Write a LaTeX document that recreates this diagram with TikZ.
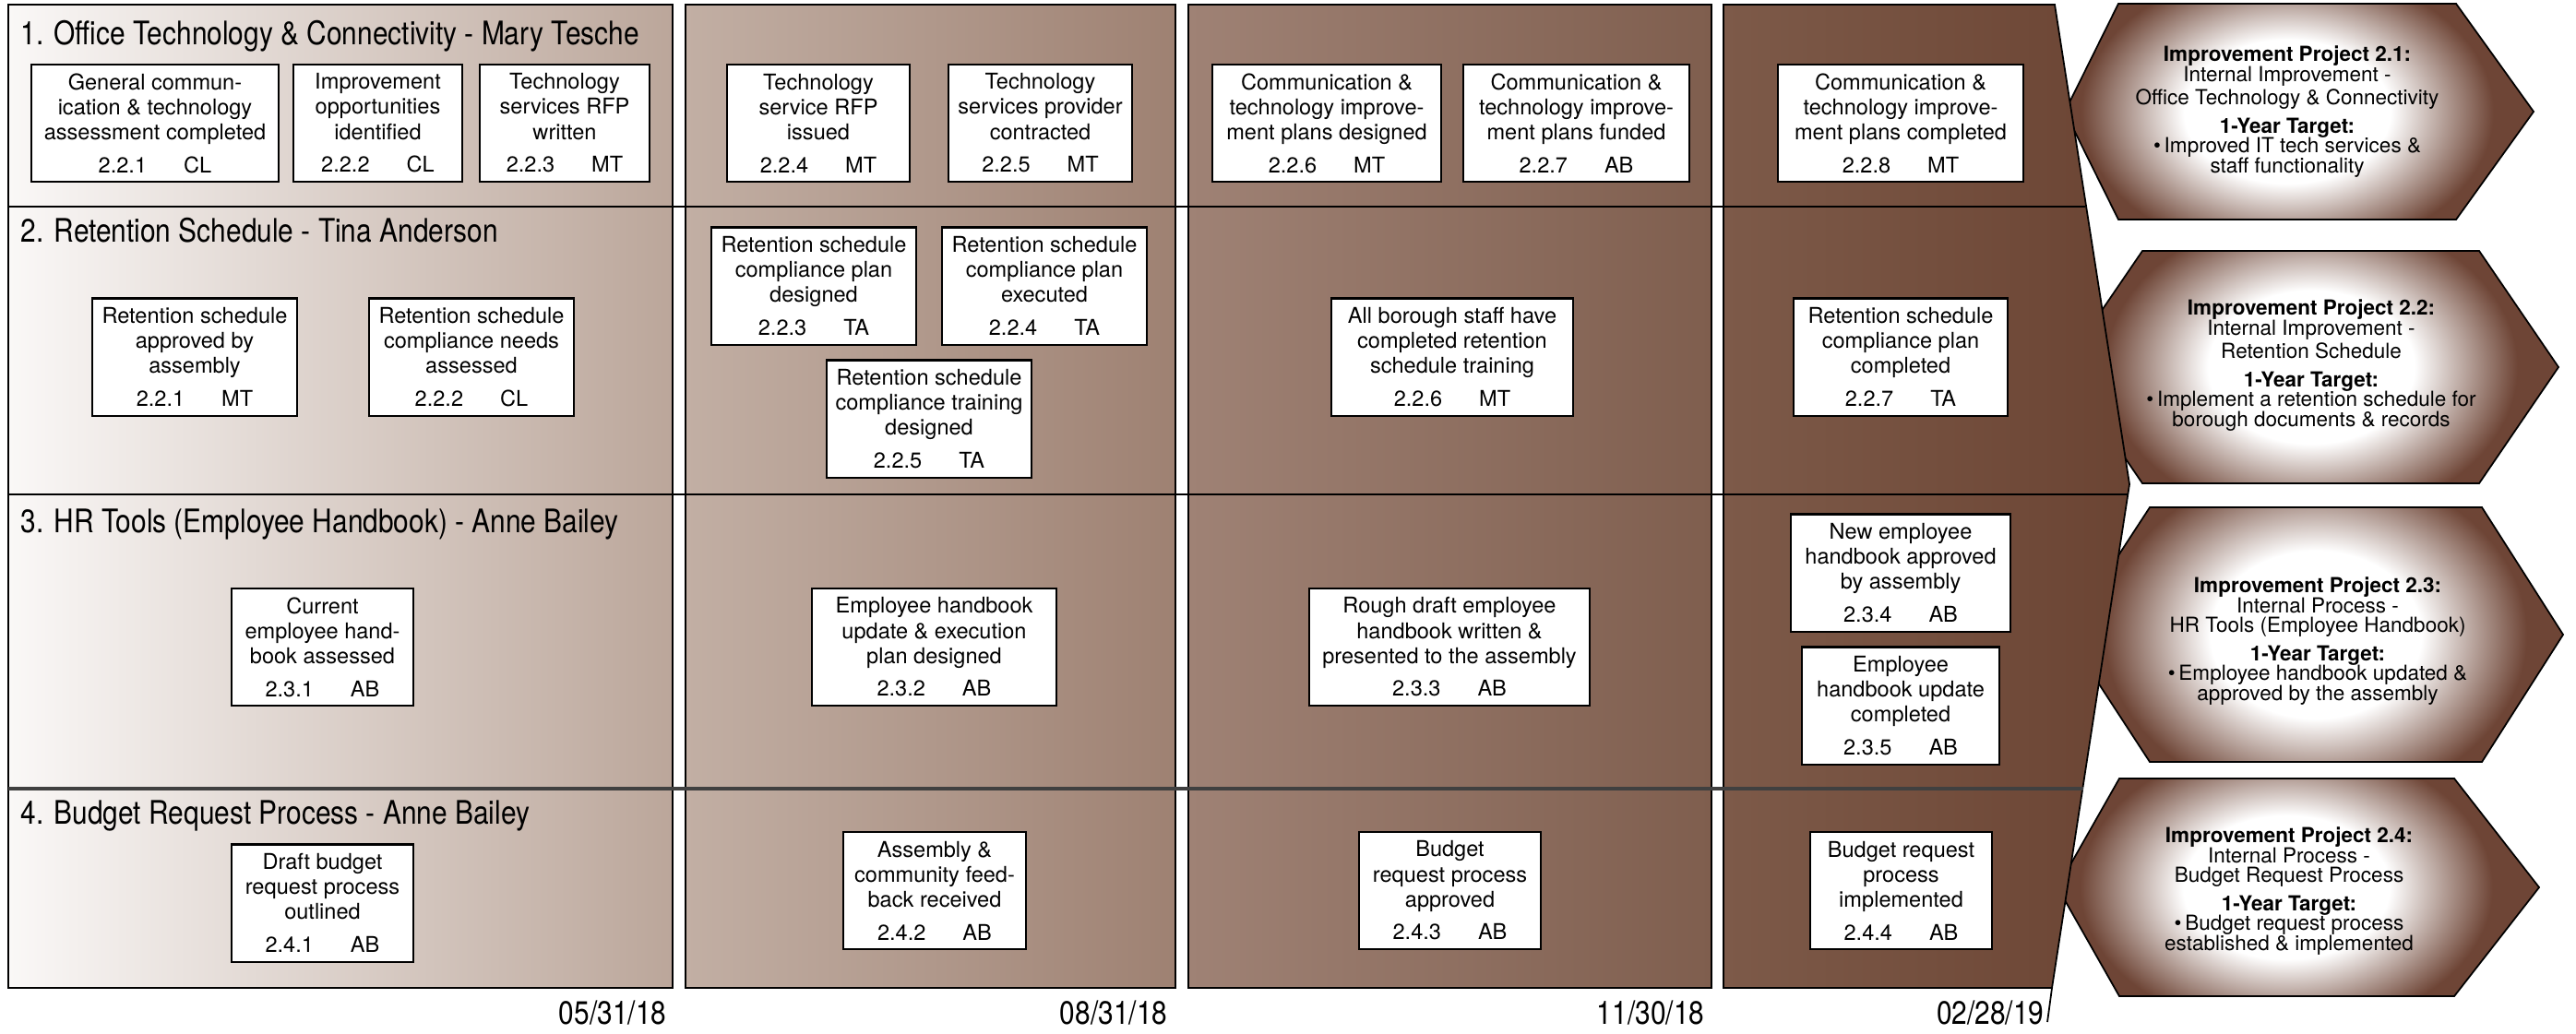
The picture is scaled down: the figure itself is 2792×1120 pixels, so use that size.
\documentclass[tikz,border=0pt]{standalone}
\usepackage{fontspec}
\setmainfont{TeX Gyre Heros}
\newfontfamily\hdrfont[FakeStretch=0.85]{TeX Gyre Heros}
\usetikzlibrary{calc}
\definecolor{c1l}{HTML}{FAF8F7}
\definecolor{c1r}{HTML}{BBA69A}
\definecolor{c2l}{HTML}{C2AFA4}
\definecolor{c2r}{HTML}{9E8172}
\definecolor{c3l}{HTML}{9F8275}
\definecolor{c3r}{HTML}{7F5E4E}
\definecolor{c4l}{HTML}{7D5A49}
\definecolor{c4r}{HTML}{6B4433}
\definecolor{hexbrown}{HTML}{6E4536}
\pgfdeclareradialshading{hexshade}{\pgfpoint{0bp}{0bp}}{color(0bp)=(white); color(6.5bp)=(white); color(13bp)=(hexbrown); color(50bp)=(hexbrown)}
\begin{document}
\begin{tikzpicture}[x=0.01cm,y=-0.01cm,
  panel/.style={draw=black,line width=0.5pt},
  divider/.style={draw=black,line width=0.5pt},
  dividerthick/.style={draw=black!75,line width=1pt},
  mbox/.style={draw=black,line width=0.6pt,fill=white,inner sep=0pt,minimum height=1.27cm,align=center,font=\fontsize{6.7}{7.7}\selectfont},
  hdr/.style={inner sep=0pt,font=\hdrfont\fontsize{10}{12}\selectfont},
  datetext/.style={inner sep=0pt,font=\hdrfont\fontsize{10}{12}\selectfont},
  hexline/.style={draw=black,line width=0.5pt},
  hextext/.style={inner sep=0pt,align=center,font=\fontsize{6.4}{6.1}\selectfont}]
\useasboundingbox (0,0) rectangle (2792,1120);

% column panels
\draw[panel,left color=c1l,right color=c1r] (9,5) rectangle (729,1071);
\draw[panel,left color=c2l,right color=c2r] (743,5) rectangle (1274,1071);
\draw[panel,left color=c3l,right color=c3r] (1288,5) rectangle (1855,1071);

% hexagons (behind the arrow panel)
\newcommand{\hexshape}[4]{%
  \begin{scope}
    \clip #1;
    \shade[shading=hexshade] ($#2-(#3,#4)$) rectangle ($#2+(#3,#4)$);
  \end{scope}
  \draw[hexline] #1;}
\hexshape{(2296,4) -- (2662,4) -- (2746,121) -- (2662,238) -- (2296,238) -- (2238,121) -- cycle}{(2479,121)}{430}{300}
\hexshape{(2322,272) -- (2687,272) -- (2773,398) -- (2687,524) -- (2322,524) -- (2236,398) -- cycle}{(2505,398)}{430}{320}
\hexshape{(2330,550) -- (2690,550) -- (2778,688) -- (2690,826) -- (2330,826) -- (2240,688) -- cycle}{(2510,688)}{440}{350}
\hexshape{(2297,844) -- (2660,844) -- (2752,962) -- (2660,1080) -- (2297,1080) -- (2230,962) -- cycle}{(2478,962)}{430}{300}

% arrow-shaped last column
\coordinate (T) at (2227,5);
\coordinate (A) at (2308,525);
\coordinate (Bp) at (2224,1071);
\coordinate (B) at (2219,1108);
\draw[panel,left color=c4l,right color=c4r] (1868,5) -- (T) -- (A) -- (Bp) -- (1868,1071) -- cycle;
\draw[panel] (Bp) -- (B);

% row dividers
\draw[divider] (9,224) -- (2260,224);
\draw[divider] (9,536) -- (2306,536);
\draw[dividerthick] (9,855) -- (2258,855);

% row headers
\node[hdr,anchor=base west] (h1) at (22,48) {1. Office Technology \& Connectivity - Mary Tesche};
\node[hdr,anchor=base west] (h2) at (22,262) {2. Retention Schedule - Tina Anderson};
\node[hdr,anchor=base west] (h3) at (22,577) {3. HR Tools (Employee Handbook) - Anne Bailey};
\node[hdr,anchor=base west] (h4) at (22,893) {4. Budget Request Process - Anne Bailey};

% row 1 boxes
\node[mbox,minimum width=2.68cm] (r1a) at (168,133.5) {General commun-\\ication \& technology\\assessment completed\\[2.5pt]2.2.1\hspace{0.4cm}CL};
\node[mbox,minimum width=1.83cm] (r1b) at (409.5,133.5) {Improvement\\opportunities\\identified\\[2.5pt]2.2.2\hspace{0.4cm}CL};
\node[mbox,minimum width=1.84cm] (r1c) at (612,133.5) {Technology\\services RFP\\written\\[2.5pt]2.2.3\hspace{0.4cm}MT};
\node[mbox,minimum width=1.98cm] (r1d) at (887,133.5) {Technology\\service RFP\\issued\\[2.5pt]2.2.4\hspace{0.4cm}MT};
\node[mbox,minimum width=1.99cm] (r1e) at (1127.5,133.5) {Technology\\services provider\\contracted\\[2.5pt]2.2.5\hspace{0.4cm}MT};
\node[mbox,minimum width=2.48cm] (r1f) at (1438,133.5) {Communication \&\\technology improve-\\ment plans designed\\[2.5pt]2.2.6\hspace{0.4cm}MT};
\node[mbox,minimum width=2.45cm] (r1g) at (1708.5,133.5) {Communication \&\\technology improve-\\ment plans funded\\[2.5pt]2.2.7\hspace{0.4cm}AB};
\node[mbox,minimum width=2.66cm] (r1h) at (2060,133.5) {Communication \&\\technology improve-\\ment plans completed\\[2.5pt]2.2.8\hspace{0.4cm}MT};

% row 2 boxes
\node[mbox,minimum width=2.22cm] (r2a) at (211,387) {Retention schedule\\approved by\\assembly\\[2.5pt]2.2.1\hspace{0.4cm}MT};
\node[mbox,minimum width=2.22cm] (r2b) at (511,387) {Retention schedule\\compliance needs\\assessed\\[2.5pt]2.2.2\hspace{0.4cm}CL};
\node[mbox,minimum width=2.22cm] (r2c) at (882,310) {Retention schedule\\compliance plan\\designed\\[2.5pt]2.2.3\hspace{0.4cm}TA};
\node[mbox,minimum width=2.22cm] (r2d) at (1132,310) {Retention schedule\\compliance plan\\executed\\[2.5pt]2.2.4\hspace{0.4cm}TA};
\node[mbox,minimum width=2.22cm] (r2e) at (1007,454) {Retention schedule\\compliance training\\designed\\[2.5pt]2.2.5\hspace{0.4cm}TA};
\node[mbox,minimum width=2.62cm] (r2f) at (1574,387) {All borough staff have\\completed retention\\schedule training\\[2.5pt]2.2.6\hspace{0.4cm}MT};
\node[mbox,minimum width=2.32cm] (r2g) at (2060,387) {Retention schedule\\compliance plan\\completed\\[2.5pt]2.2.7\hspace{0.4cm}TA};

% row 3 boxes
\node[mbox,minimum width=1.97cm] (r3a) at (349.5,701.5) {Current\\employee hand-\\book assessed\\[2.5pt]2.3.1\hspace{0.4cm}AB};
\node[mbox,minimum width=2.65cm] (r3b) at (1012.5,701.5) {Employee handbook\\update \& execution\\plan designed\\[2.5pt]2.3.2\hspace{0.4cm}AB};
\node[mbox,minimum width=3.04cm] (r3c) at (1571,701.5) {Rough draft employee\\handbook written \&\\presented to the assembly\\[2.5pt]2.3.3\hspace{0.4cm}AB};
\node[mbox,minimum width=2.38cm] (r3d) at (2060,621) {New employee\\handbook approved\\by assembly\\[2.5pt]2.3.4\hspace{0.4cm}AB};
\node[mbox,minimum width=2.14cm] (r3e) at (2060,765) {Employee\\handbook update\\completed\\[2.5pt]2.3.5\hspace{0.4cm}AB};

% row 4 boxes
\node[mbox,minimum width=1.97cm] (r4a) at (349.5,979) {Draft budget\\request process\\outlined\\[2.5pt]2.4.1\hspace{0.4cm}AB};
\node[mbox,minimum width=1.98cm] (r4b) at (1013,965.5) {Assembly \&\\community feed-\\back received\\[2.5pt]2.4.2\hspace{0.4cm}AB};
\node[mbox,minimum width=1.97cm] (r4c) at (1571.5,965.5) {Budget\\request process\\approved\\[2.5pt]2.4.3\hspace{0.4cm}AB};
\node[mbox,minimum width=1.97cm] (r4d) at (2060.5,965.5) {Budget request\\process\\implemented\\[2.5pt]2.4.4\hspace{0.4cm}AB};

% hexagon texts
\node[hextext] (x1) at (2479,121) {\textbf{Improvement Project 2.1:}\\Internal Improvement -\\Office Technology \& Connectivity\\[2.6pt]\textbf{1-Year Target:}\\\textbullet\,Improved IT tech services \&\\staff functionality};
\node[hextext] (x2) at (2505,396) {\textbf{Improvement Project 2.2:}\\Internal Improvement -\\Retention Schedule\\[2.6pt]\textbf{1-Year Target:}\\\textbullet\,Implement a retention schedule for\\borough documents \& records};
\node[hextext] (x3) at (2512,695) {\textbf{Improvement Project 2.3:}\\Internal Process -\\HR Tools (Employee Handbook)\\[2.6pt]\textbf{1-Year Target:}\\\textbullet\,Employee handbook updated \&\\approved by the assembly};
\node[hextext] (x4) at (2481,966) {\textbf{Improvement Project 2.4:}\\Internal Process -\\Budget Request Process\\[2.6pt]\textbf{1-Year Target:}\\\textbullet\,Budget request process\\established \& implemented};

% dates
\node[datetext,anchor=base east] (d1) at (723,1110) {05/31/18};
\node[datetext,anchor=base east] (d2) at (1266,1110) {08/31/18};
\node[datetext,anchor=base east] (d3) at (1848,1110) {11/30/18};
\node[datetext,anchor=base east] (d4) at (2216,1110) {02/28/19};
\end{tikzpicture}
\end{document}
